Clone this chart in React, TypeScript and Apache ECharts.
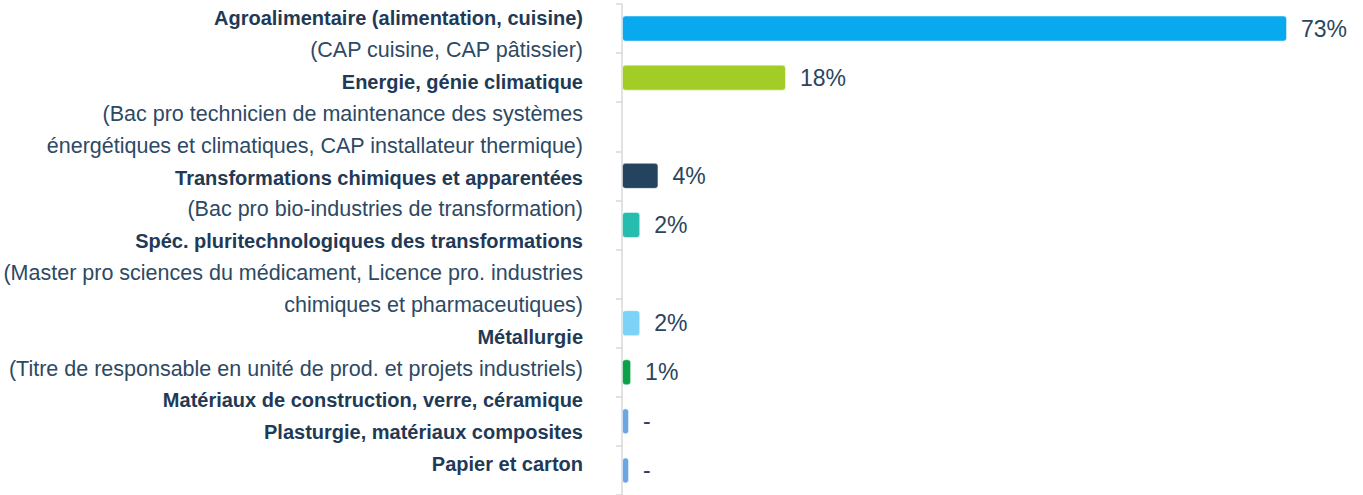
import React, { useEffect, useRef } from "react";
import * as echarts from "echarts";

// Bar slots (top to bottom); blank strings are empty rows
const barSlots = [
  "Agroalimentaire",
  "Energie",
  " ",
  "Transformations chimiques",
  "Spéc. pluritechnologiques",
  "  ",
  "Métallurgie",
  "Matériaux de construction",
  "Plasturgie",
  "Papier et carton",
];
const barValues: (number | null)[] = [73, 18, null, 4, 2, null, 2, 1, 0, 0];
const barLabels = ["73%", "18%", "", "4%", "2%", "", "2%", "1%", "-", "-"];
const barColors = [
  "#08a9ee",
  "#a2cd26",
  "#ffffff",
  "#23435e",
  "#26bdae",
  "#ffffff",
  "#7dd3f7",
  "#0aa14a",
  "#6aa6e4",
  "#6aa6e4",
];

// Left-hand label text, line by line
const labelLines = [
  "Agroalimentaire (alimentation, cuisine)",
  "(CAP cuisine, CAP pâtissier)",
  "Energie, génie climatique",
  "(Bac pro technicien de maintenance des systèmes",
  "énergétiques et climatiques, CAP installateur thermique)",
  "Transformations chimiques et apparentées",
  "(Bac pro bio-industries de transformation)",
  "Spéc. pluritechnologiques des transformations",
  "(Master pro sciences du médicament, Licence pro. industries",
  "chimiques et pharmaceutiques)",
  "Métallurgie",
  "(Titre de responsable en unité de prod. et projets industriels)",
  "Matériaux de construction, verre, céramique",
  "Plasturgie, matériaux composites",
  "Papier et carton",
];
const boldLines = [true, false, true, false, false, true, false, true, false, false, true, false, true, true, true];

const FONT = "'Liberation Sans', Arial, Helvetica, sans-serif";

export default function App() {
  const ref = useRef<HTMLDivElement>(null);

  useEffect(() => {
    if (!ref.current) return;
    const chart = echarts.init(ref.current, null, { renderer: "svg" });
    chart.setOption({
      animation: false,
      grid: [
        { left: 622, right: 76, top: 4, bottom: -3 },
        { left: 590, right: 700, top: 2.5, bottom: 15 },
      ],
      xAxis: [
        { gridIndex: 0, type: "value", min: 0, max: 73, show: false },
        { gridIndex: 1, type: "value", min: 0, max: 1, show: false },
      ],
      yAxis: [
        {
          gridIndex: 0,
          type: "category",
          inverse: true,
          data: barSlots,
          axisLine: { show: true, lineStyle: { color: "#d9d9d9", width: 1.5 } },
          axisTick: { show: true, length: 6, lineStyle: { color: "#d9d9d9", width: 1.5 } },
          axisLabel: { show: false },
          splitLine: { show: false },
        },
        {
          gridIndex: 1,
          type: "category",
          inverse: true,
          data: labelLines.map((t, i) => ({
            value: t,
            textStyle: boldLines[i]
              ? { fontWeight: "bold", fontSize: 20, color: "#1f3a56" }
              : { fontWeight: "normal", fontSize: 21.5, color: "#2d4964" },
          })),
          axisLine: { show: false },
          axisTick: { show: false },
          splitLine: { show: false },
          axisLabel: {
            show: true,
            interval: 0,
            margin: 7,
            align: "right",
            fontFamily: FONT,
          },
        },
      ],
      series: [
        {
          type: "bar",
          xAxisIndex: 0,
          yAxisIndex: 0,
          barWidth: 26,
          barMinHeight: 7,
          data: barValues.map((v, i) => ({
            value: v,
            itemStyle: {
              color: barColors[i],
              borderRadius: 3,
              borderColor: "rgba(255,255,255,0.45)",
              borderWidth: 1,
            },
          })),
          label: {
            show: true,
            position: "right",
            distance: 14,
            fontFamily: FONT,
            fontSize: 23,
            color: "#2a4560",
            formatter: (p: any) => barLabels[p.dataIndex],
          },
        },
      ],
    });
    return () => chart.dispose();
  }, []);

  return (
    <div
      ref={ref}
      style={{ position: "absolute", left: 0, top: 0, width: 1363, height: 495, background: "#fff" }}
    />
  );
}
